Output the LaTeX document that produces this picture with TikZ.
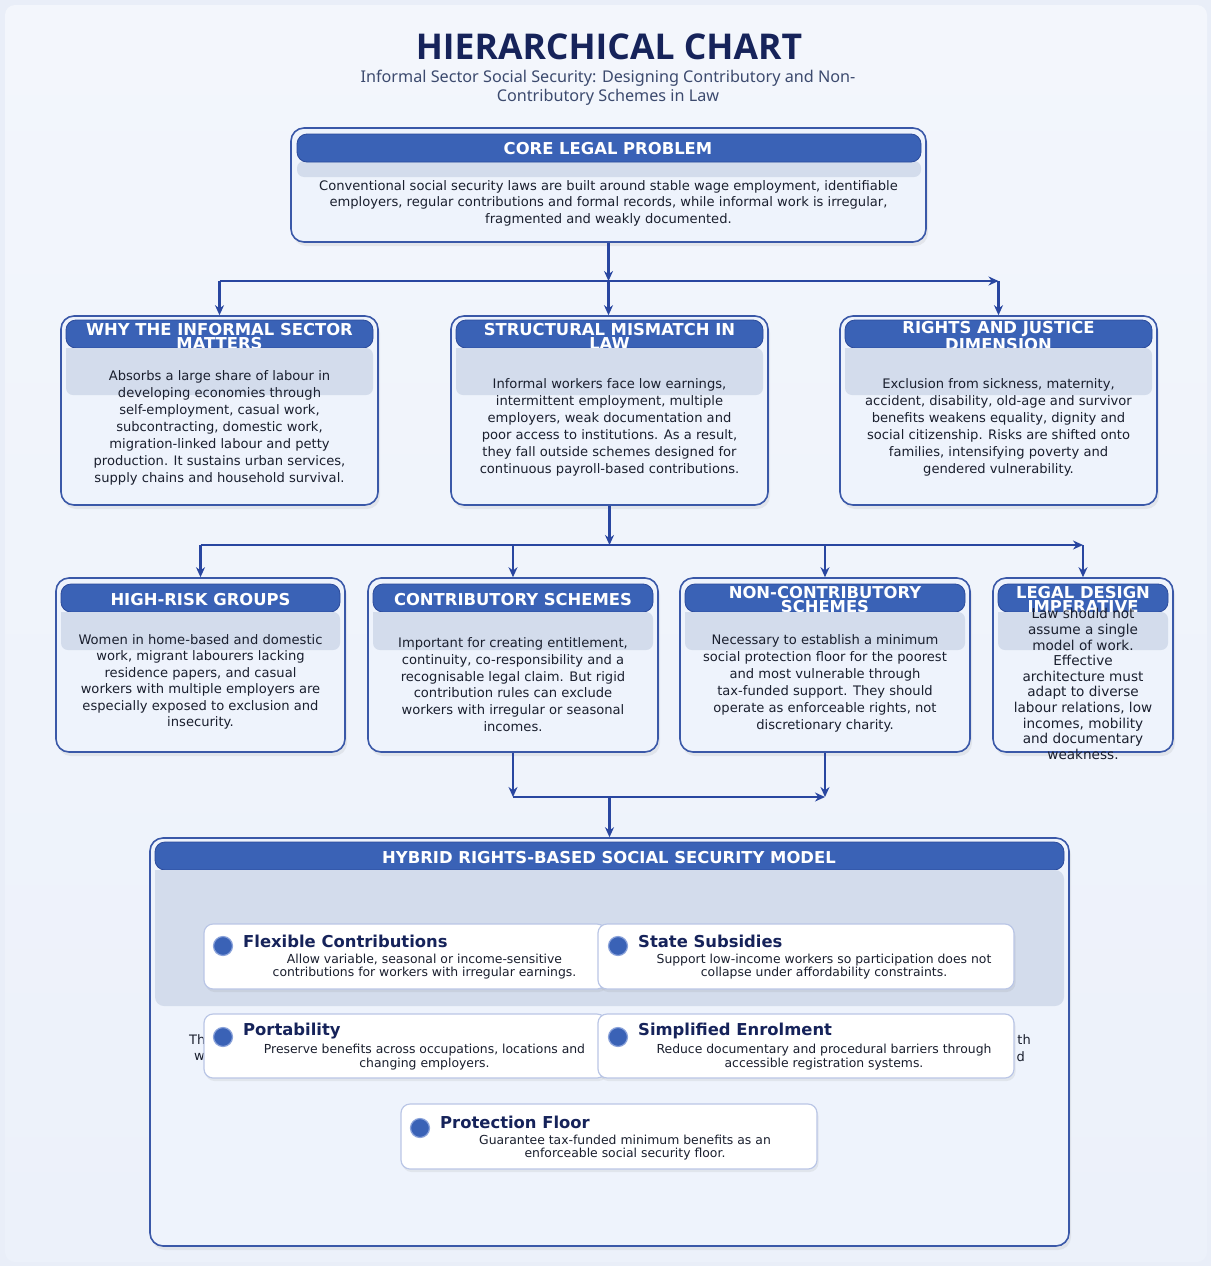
\documentclass[tikz,border=0pt]{standalone}
\usepackage{fontspec}
\setmainfont{DejaVu Sans}
\newfontfamily\notof{Noto Sans}
\newfontfamily\titlef{Open Sans}
\usetikzlibrary{arrows.meta,shadows}
\definecolor{bgc}{HTML}{E9EEF8}
\definecolor{bgtop}{HTML}{F3F6FC}
\definecolor{bgbot}{HTML}{ECF1FA}
\definecolor{titlec}{HTML}{16235A}
\definecolor{subc}{HTML}{3C4A6E}
\definecolor{hblue}{HTML}{3A62B6}
\definecolor{hbd}{HTML}{2B4A9A}
\definecolor{panelb}{HTML}{3A58A8}
\definecolor{panelf}{HTML}{EEF3FC}
\definecolor{bandc}{HTML}{D3DCEC}
\definecolor{connc}{HTML}{2946A0}
\definecolor{bodyc}{HTML}{1A1F2E}
\definecolor{cardb}{HTML}{BAC6E6}
\definecolor{dotring}{HTML}{8AA2DA}
\tikzset{
 panel/.style={draw=panelb, line width=1.6pt, rounded corners=13pt, fill=panelf,
   drop shadow={opacity=0.13, shadow xshift=2pt, shadow yshift=-4pt}, inner sep=0pt},
 hbar/.style={fill=hblue, draw=hbd, line width=0.8pt, rounded corners=10pt, inner sep=0pt},
 htext/.style={text=white, font=\bfseries\fontsize{16.4}{14}\selectfont, align=center, inner sep=0pt},
 body/.style={text=bodyc, align=center, inner sep=0pt},
 conn/.style={draw=connc, line width=2.4pt},
 arr/.style={conn, -{Stealth[length=10pt,width=9pt]}},
 card/.style={fill=white, draw=cardb, line width=1.2pt, rounded corners=9pt,
   drop shadow={opacity=0.12, shadow xshift=1.5pt, shadow yshift=-3pt}, inner sep=0pt},
 ctitle/.style={text=titlec, font=\bfseries\fontsize{16.4}{18}\selectfont, anchor=west, inner sep=0pt},
 cdesc/.style={text=bodyc, font=\fontsize{12.4}{13.5}\selectfont, align=center, inner sep=0pt},
 bullet/.style={circle, fill=hblue, draw=dotring, line width=1.2pt, minimum size=19pt, inner sep=0pt},
 frag/.style={text=bodyc, font=\fontsize{13}{17}\selectfont, inner sep=0pt},
}
\begin{document}
\begin{tikzpicture}[x=1pt,y=-1pt]
\useasboundingbox (0,0) rectangle (1211,1266);
\fill[bgc] (0,0) rectangle (1211,1266);
\shade[top color=bgtop, bottom color=bgbot, rounded corners=10pt] (5,5) rectangle (1207,1262);

% title
\node[font=\titlef\bfseries\fontsize{35.5}{38}\selectfont, text=titlec, inner sep=0pt] (title) at (609,47) {HIERARCHICAL CHART};
\node[font=\notof\fontsize{16.2}{19}\selectfont, text=subc, align=center, inner sep=0pt] (subtitle) at (608,88) {Informal Sector Social Security: Designing Contributory and Non-\\Contributory Schemes in Law};

% ---------- core ----------
\node[panel, minimum width=635pt, minimum height=114pt] (core) at (608.5,185) {};
\node[fill=bandc, rounded corners=7pt, inner sep=0pt, minimum width=624pt, minimum height=16pt] (coreband) at (609,169) {};
\node[hbar, minimum width=624pt, minimum height=28pt] (corebar) at (609,148) {};
\node[htext] (corehead) at (608,149) {CORE LEGAL PROBLEM};
\node[body, font=\fontsize{13.1}{16.5}\selectfont] (coretext) at (608.5,203) {Conventional social security laws are built around stable wage employment, identifiable\\employers, regular contributions and formal records, while informal work is irregular,\\fragmented and weakly documented.};

% ---------- row 2 ----------
\node[panel, minimum width=317pt, minimum height=189pt] (why) at (219.5,410.5) {};
\node[panel, minimum width=317pt, minimum height=189pt] (mis) at (609.5,410.5) {};
\node[panel, minimum width=317pt, minimum height=189pt] (rights) at (998.5,410.5) {};

\node[hbar, minimum width=307pt, minimum height=28pt] (whybar) at (219.5,334) {};
\node[hbar, minimum width=307pt, minimum height=28pt] (misbar) at (609.5,334) {};
\node[hbar, minimum width=307pt, minimum height=28pt] (rightsbar) at (998.5,334) {};
\node[htext] (whyhead) at (219.5,337) {WHY THE INFORMAL SECTOR\\MATTERS};
\node[htext] (mishead) at (609.5,336.5) {STRUCTURAL MISMATCH IN\\LAW};
\node[htext] (rightshead) at (998.5,336) {RIGHTS AND JUSTICE\\DIMENSION};
\fill[bandc] (66,348) [rounded corners=7pt] -- (66,395) -- (373,395) -- (373,348) [sharp corners] -- cycle;
\fill[bandc] (456,348) [rounded corners=7pt] -- (456,395) -- (763,395) -- (763,348) [sharp corners] -- cycle;
\fill[bandc] (845,348) [rounded corners=7pt] -- (845,395) -- (1152,395) -- (1152,348) [sharp corners] -- cycle;

\node[body, font=\fontsize{13.1}{17}\selectfont] (whytext) at (219.5,428) {Absorbs a large share of labour in\\developing economies through\\self-employment, casual work,\\subcontracting, domestic work,\\migration-linked labour and petty\\production. It sustains urban services,\\supply chains and household survival.};
\node[body, font=\fontsize{13.1}{17}\selectfont] (mistext) at (609.5,427.5) {Informal workers face low earnings,\\intermittent employment, multiple\\employers, weak documentation and\\poor access to institutions. As a result,\\they fall outside schemes designed for\\continuous payroll-based contributions.};
\node[body, font=\fontsize{13.1}{17}\selectfont] (rightstext) at (998.5,427.5) {Exclusion from sickness, maternity,\\accident, disability, old-age and survivor\\benefits weakens equality, dignity and\\social citizenship. Risks are shifted onto\\families, intensifying poverty and\\gendered vulnerability.};

% ---------- row 3 ----------
\node[panel, minimum width=289pt, minimum height=174pt] (risk) at (200.5,665) {};
\node[panel, minimum width=290pt, minimum height=174pt] (contrib) at (513,665) {};
\node[panel, minimum width=290pt, minimum height=174pt] (noncon) at (825,665) {};
\node[panel, minimum width=180pt, minimum height=174pt] (legal) at (1083,665) {};

\node[hbar, minimum width=279pt, minimum height=28pt] (riskbar) at (200.5,598) {};
\node[hbar, minimum width=280pt, minimum height=28pt] (contribbar) at (513,598) {};
\node[hbar, minimum width=280pt, minimum height=28pt] (nonconbar) at (825,598) {};
\node[hbar, minimum width=170pt, minimum height=28pt] (legalbar) at (1083,598) {};
\node[htext] (riskhead) at (200.5,600) {HIGH-RISK GROUPS};
\node[htext] (contribhead) at (513,600) {CONTRIBUTORY SCHEMES};
\node[htext] (nonconhead) at (825,600) {NON-CONTRIBUTORY\\SCHEMES};
\node[htext] (legalhead) at (1083,599.5) {LEGAL DESIGN\\IMPERATIVE};
\fill[bandc] (61,612) [rounded corners=7pt] -- (61,650) -- (340,650) -- (340,612) [sharp corners] -- cycle;
\fill[bandc] (373,612) [rounded corners=7pt] -- (373,650) -- (653,650) -- (653,612) [sharp corners] -- cycle;
\fill[bandc] (685,612) [rounded corners=7pt] -- (685,650) -- (965,650) -- (965,612) [sharp corners] -- cycle;
\fill[bandc] (998,612) [rounded corners=7pt] -- (998,650) -- (1168,650) -- (1168,612) [sharp corners] -- cycle;

\node[body, font=\fontsize{13.1}{16.5}\selectfont] (risktext) at (200.5,682) {Women in home-based and domestic\\work, migrant labourers lacking\\residence papers, and casual\\workers with multiple employers are\\especially exposed to exclusion and\\insecurity.};
\node[body, font=\fontsize{13.1}{16.7}\selectfont] (contribtext) at (513,684.5) {Important for creating entitlement,\\continuity, co-responsibility and a\\recognisable legal claim. But rigid\\contribution rules can exclude\\workers with irregular or seasonal\\incomes.};
\node[body, font=\fontsize{13.1}{17}\selectfont] (noncontext) at (825,683) {Necessary to establish a minimum\\social protection floor for the poorest\\and most vulnerable through\\tax-funded support. They should\\operate as enforceable rights, not\\discretionary charity.};
\node[body, font=\fontsize{13.6}{15.6}\selectfont] (legaltext) at (1083,684) {Law should not\\assume a single\\model of work.\\Effective\\architecture must\\adapt to diverse\\labour relations, low\\incomes, mobility\\and documentary\\weakness.};

% ---------- hybrid ----------
\node[panel, minimum width=919pt, minimum height=408pt] (hybrid) at (609.5,1042) {};
\node[hbar, minimum width=909pt, minimum height=28pt] (hybridbar) at (609.5,856) {};
\node[text=white, font=\bfseries\fontsize{16.4}{16}\selectfont, inner sep=0pt] (hybridhead) at (609,858) {HYBRID RIGHTS-BASED SOCIAL SECURITY MODEL};
\fill[bandc] (155,870) [rounded corners=9pt] -- (155,1006) -- (1064,1006) -- (1064,870) [sharp corners] -- cycle;

\node[frag, anchor=west] (fragA) at (189,1040) {Th};
\node[frag, anchor=west] (fragB) at (194,1057) {w};
\node[frag, anchor=east] (fragC) at (1031,1040) {th};
\node[frag, anchor=east] (fragD) at (1025,1057) {d};

\node[card, minimum width=402pt, minimum height=65pt] (flex) at (405,956.5) {};
\node[bullet] (flexdot) at (223,946) {};
\node[ctitle] (flextitle) at (243,941) {Flexible Contributions};
\node[cdesc] (flexdesc) at (424.5,966.5) {Allow variable, seasonal or income-sensitive\\contributions for workers with irregular earnings.};

\node[card, minimum width=416pt, minimum height=65pt] (state) at (806,956.5) {};
\node[bullet] (statedot) at (618,946) {};
\node[ctitle] (statetitle) at (638,941) {State Subsidies};
\node[cdesc] (statedesc) at (824,966.5) {Support low-income workers so participation does not\\collapse under affordability constraints.};

\node[card, minimum width=402pt, minimum height=64pt] (port) at (405,1046) {};
\node[bullet] (portdot) at (223,1037) {};
\node[ctitle] (porttitle) at (243,1031) {Portability};
\node[cdesc] (portdesc) at (424.5,1057) {Preserve benefits across occupations, locations and\\changing employers.};

\node[card, minimum width=416pt, minimum height=64pt] (simp) at (806,1046) {};
\node[bullet] (simpdot) at (618,1037) {};
\node[ctitle] (simptitle) at (638,1031) {Simplified Enrolment};
\node[cdesc] (simpdesc) at (824,1057) {Reduce documentary and procedural barriers through\\accessible registration systems.};

\node[card, minimum width=416pt, minimum height=65pt] (floor) at (609,1136.5) {};
\node[bullet] (floordot) at (420,1128) {};
\node[ctitle] (floortitle) at (440,1122) {Protection Floor};
\node[cdesc] (floordesc) at (625,1147.5) {Guarantee tax-funded minimum benefits as an\\enforceable social security floor.};

% ---------- connectors ----------
\coordinate (j1) at (608.5,281);
\coordinate (j1L) at (219.5,281);
\coordinate (j1R) at (998.5,281);
\draw[arr] (core.south) -- (j1);
\draw[conn] (j1L) -- (j1);
\draw[arr] (j1) -- (j1R);
\draw[arr] (j1L) -- (why.north);
\draw[arr] (j1) -- (mis.north -| j1);
\draw[arr] (j1R) -- (rights.north);

\coordinate (j2) at (609.5,545);
\coordinate (j2L) at (200.5,545);
\coordinate (j2R) at (1083,545);
\draw[arr] (mis.south) -- (j2);
\draw[conn] (j2L) -- (j2);
\draw[arr] (j2) -- (j2R);
\draw[arr] (j2L) -- (risk.north);
\draw[arr] (contrib.north |- j2) -- (contrib.north);
\draw[arr] (noncon.north |- j2) -- (noncon.north);
\draw[arr] (j2R) -- (legal.north);

\coordinate (j3L) at (513,797);
\coordinate (j3R) at (825,797);
\coordinate (j3) at (609.5,797);
\draw[arr] (contrib.south) -- (j3L);
\draw[arr] (noncon.south) -- (j3R);
\draw[arr] (j3L) -- (j3R);
\draw[arr] (j3) -- (hybrid.north);
\end{tikzpicture}
\end{document}
